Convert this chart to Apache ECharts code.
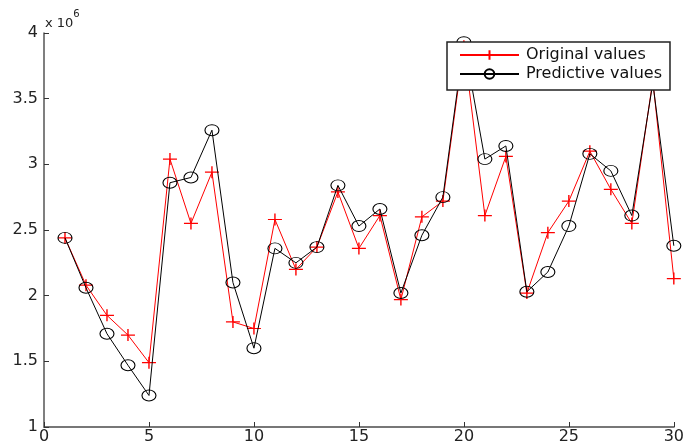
<!DOCTYPE html>
<html>
<head>
<meta charset="utf-8">
<script src="https://cdn.jsdelivr.net/npm/echarts@6/dist/echarts.min.js"></script>
<style>
  html, body { margin: 0; padding: 0; background: #fff; }
  #chart { width: 687px; height: 448px; }
</style>
</head>
<body>
<div id="chart"></div>
<script>
// sample index 1..30
const xValues = [1, 2, 3, 4, 5, 6, 7, 8, 9, 10, 11, 12, 13, 14, 15, 16, 17, 18, 19, 20, 21, 22, 23, 24, 25, 26, 27, 28, 29, 30];
// values in units of 1e6
const originalValues = [2.44, 2.08, 1.85, 1.70, 1.49, 3.04, 2.55, 2.94, 1.80, 1.75, 2.58, 2.20, 2.37, 2.79, 2.36, 2.61, 1.97, 2.60, 2.72, 3.90, 2.61, 3.06, 2.02, 2.48, 2.72, 3.10, 2.81, 2.55, 3.64, 2.13];
const predictiveValues = [2.44, 2.06, 1.71, 1.47, 1.24, 2.86, 2.90, 3.26, 2.10, 1.60, 2.36, 2.25, 2.37, 2.84, 2.53, 2.66, 2.02, 2.46, 2.75, 3.93, 3.04, 3.14, 2.03, 2.18, 2.53, 3.08, 2.95, 2.61, 3.62, 2.38];
const xTicks = [0, 5, 10, 15, 20, 25, 30];
const yTicks = [1, 1.5, 2, 2.5, 3, 3.5, 4];

const chart = echarts.init(document.getElementById('chart'));
const font = 'DejaVu Sans, Verdana, sans-serif';
const toPairs = (arr) => arr.map((v, i) => [xValues[i], v]);

const plusPath = 'path://M0,6 L14,6 M7,0 L7,12';

const option = {
  animation: false,
  backgroundColor: '#fff',
  grid: { left: 44, right: 6, top: 33, bottom: 21, containLabel: false },
  xAxis: {
    type: 'value',
    min: 0, max: 30, interval: 5,
    axisLine: { show: true, lineStyle: { color: '#777', width: 2 } },
    axisTick: { show: true, inside: true, length: 5, lineStyle: { color: '#333' } },
    axisLabel: { color: '#222', fontSize: 16, fontFamily: font, margin: 2,
      formatter: (v) => xTicks.includes(v) ? String(v) : '' },
    splitLine: { show: false }
  },
  yAxis: {
    type: 'value',
    min: 1, max: 4, interval: 0.5,
    axisLine: { show: true, lineStyle: { color: '#555', width: 1.5 } },
    axisTick: { show: true, inside: true, length: 5, lineStyle: { color: '#333' } },
    axisLabel: { color: '#222', fontSize: 16, fontFamily: font, margin: 6,
      formatter: (v) => yTicks.includes(v) ? String(v) : '' },
    splitLine: { show: false }
  },
  legend: {
    orient: 'vertical',
    left: 447, top: 42,
    padding: [4, 8, 7, 12],
    itemGap: 1,
    itemWidth: 59, itemHeight: 12,
    backgroundColor: '#fff',
    borderColor: '#222', borderWidth: 1.5, borderRadius: 0,
    textStyle: { color: '#111', fontSize: 16, lineHeight: 18, fontFamily: font, padding: [0, 0, 0, 2] },
    data: ['Original values', 'Predictive values'],
    z: 10
  },
  graphic: [{
    type: 'text',
    left: 45, top: 9,
    style: {
      text: '{a|x 10}{b|6}',
      rich: {
        a: { fontSize: 13, fontFamily: font, fill: '#222', padding: [8, 0, 0, 0] },
        b: { fontSize: 10, fontFamily: font, fill: '#222', verticalAlign: 'top' }
      }
    }
  }],
  series: [
    {
      name: 'Original values',
      type: 'line',
      data: toPairs(originalValues),
      symbol: plusPath,
      symbolSize: [14, 12],
      symbolKeepAspect: false,
      lineStyle: { color: '#ff0000', width: 1 },
      itemStyle: { color: 'transparent', borderColor: '#ff0000', borderWidth: 1.3 },
      z: 2
    },
    {
      name: 'Predictive values',
      type: 'line',
      data: toPairs(predictiveValues),
      symbol: 'circle',
      symbolSize: [14, 11],
      lineStyle: { color: '#000', width: 1 },
      itemStyle: { color: 'transparent', borderColor: '#000', borderWidth: 1 },
      z: 3
    }
  ]
};
chart.setOption(option);
</script>
</body>
</html>
